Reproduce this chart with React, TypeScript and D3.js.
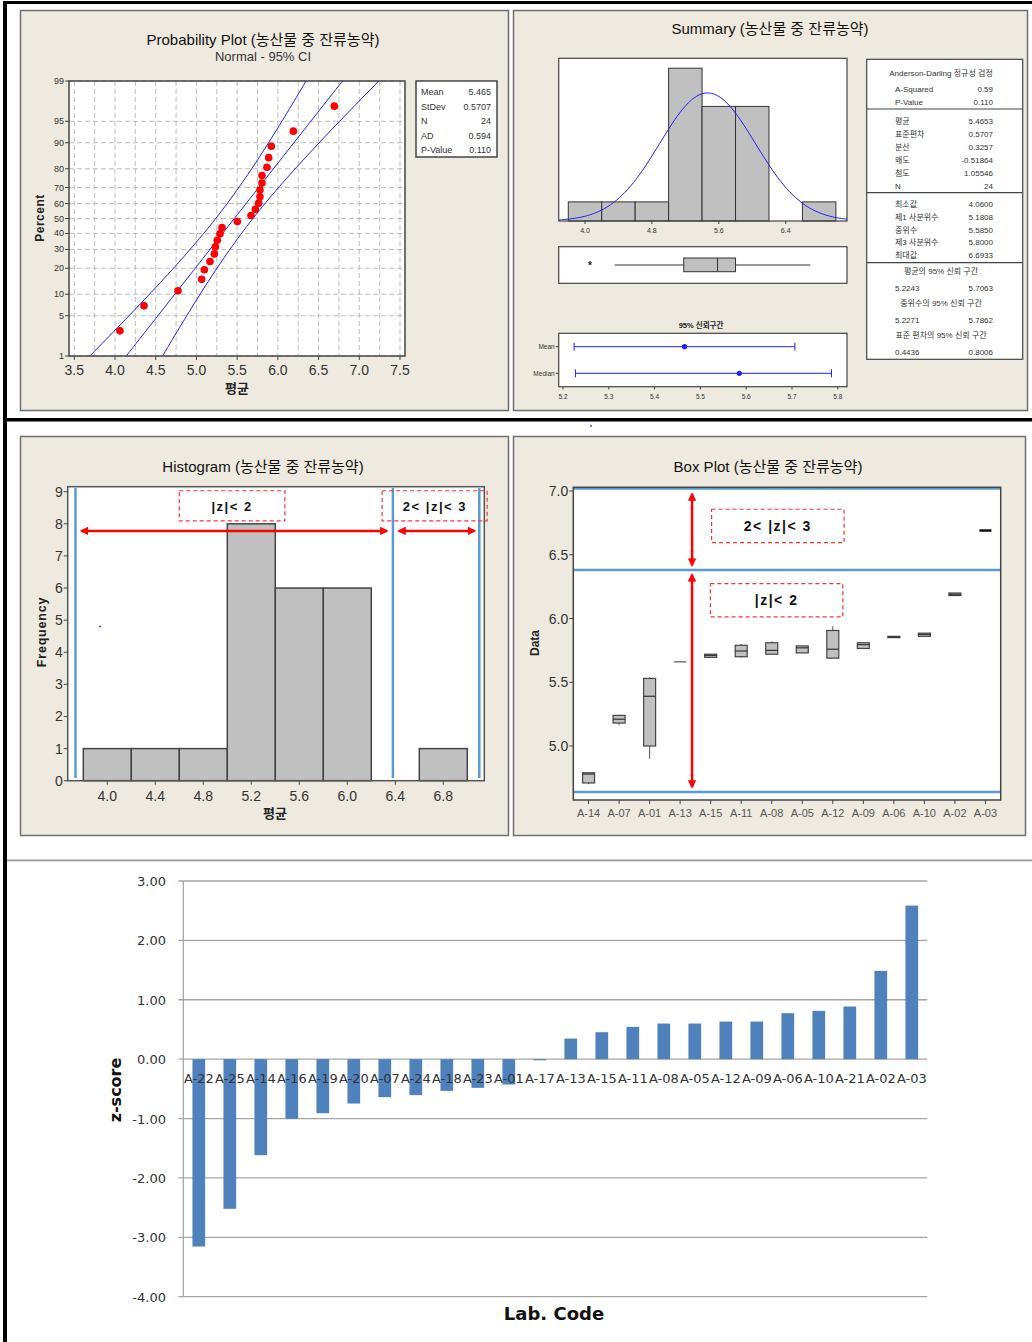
import React from 'react';
import * as d3 from 'd3';

// ---------------- DATA ----------------
// Lab means used for the probability plot (24 labs)
const labMeans = [4.06, 4.356, 4.773, 5.064, 5.097, 5.166, 5.22, 5.232, 5.256, 5.289, 5.314, 5.502,
  5.67, 5.723, 5.764, 5.78, 5.78, 5.805, 5.805, 5.866, 5.887, 5.92, 6.19, 6.6933];
const statMean = 5.4653;
const statSd = 0.5707;
const statN = 24;
const probPctTicks = [1, 5, 10, 20, 30, 40, 50, 60, 70, 80, 90, 95, 99];
const probXTicks = [3.5, 4.0, 4.5, 5.0, 5.5, 6.0, 6.5, 7.0, 7.5];
const probLegend = [['Mean', '5.465'], ['StDev', '0.5707'], ['N', '24'], ['AD', '0.594'], ['P-Value', '0.110']];

// Histogram (bin centres, width 0.4)
const binCenters = [4.0, 4.4, 4.8, 5.2, 5.6, 6.0, 6.4, 6.8];
const binCounts = [1, 1, 1, 8, 6, 6, 0, 1];
const histXTicks = [4.0, 4.4, 4.8, 5.2, 5.6, 6.0, 6.4, 6.8];
const histYTicks = [0, 1, 2, 3, 4, 5, 6, 7, 8, 9];
const histLimitLines = [3.735, 6.38, 7.1];
const histArrows = [[3.76, 6.355], [6.405, 7.085]];

// Summary panel
const sumXTicks = [4.0, 4.8, 5.6, 6.4];
const sumBox = { q1: 5.1808, med: 5.585, q3: 5.8, lo: 4.356, hi: 6.6933, outlier: 4.06 };
const ciRows = ['Mean', 'Median'];
const ciCentre = [5.4653, 5.585];
const ciLow = [5.2243, 5.2271];
const ciHigh = [5.7063, 5.7862];
const ciTicks = [5.2, 5.3, 5.4, 5.5, 5.6, 5.7, 5.8];
const adRows = [['A-Squared', '0.59'], ['P-Value', '0.110']];
const descRows = [['평균', '5.4653'], ['표준편차', '0.5707'], ['분산', '0.3257'], ['왜도', '-0.51864'], ['첨도', '1.05546'], ['N', '24']];
const quantRows = [['최소값', '4.0600'], ['제1 사분위수', '5.1808'], ['중위수', '5.5850'], ['제3 사분위수', '5.8000'], ['최대값', '6.6933']];
const ciTextRows = [['평균의 95% 신뢰 구간', '5.2243', '5.7063'], ['중위수의 95% 신뢰 구간', '5.2271', '5.7862'], ['표준 편차의 95% 신뢰 구간', '0.4436', '0.8006']];

// Box plot by lab
const boxLabs = ['A-14', 'A-07', 'A-01', 'A-13', 'A-15', 'A-11', 'A-08', 'A-05', 'A-12', 'A-09', 'A-06', 'A-10', 'A-02', 'A-03'];
const boxMin = [4.70, 5.165, 4.90, 5.66, 5.695, 5.695, 5.72, 5.73, 5.689, 5.765, 5.85, 5.86, 6.18, 6.69];
const boxQ1 = [4.71, 5.18, 5.00, 5.66, 5.695, 5.70, 5.72, 5.73, 5.689, 5.765, 5.85, 5.86, 6.18, 6.69];
const boxMed = [4.78, 5.21, 5.39, 5.66, 5.71, 5.745, 5.75, 5.77, 5.759, 5.795, 5.855, 5.875, 6.19, 6.69];
const boxQ3 = [4.79, 5.24, 5.53, 5.66, 5.72, 5.79, 5.81, 5.785, 5.906, 5.81, 5.86, 5.885, 6.20, 6.69];
const boxMax = [4.79, 5.245, 5.54, 5.66, 5.72, 5.80, 5.82, 5.785, 5.94, 5.81, 5.86, 5.885, 6.20, 6.69];
const boxYTicks = [5.0, 5.5, 6.0, 6.5, 7.0];
const boxLimitLines = [7.02, 6.38, 4.64];

// z-score bar chart
const zLabs = ['A-22', 'A-25', 'A-14', 'A-16', 'A-19', 'A-20', 'A-07', 'A-24', 'A-18', 'A-23', 'A-01', 'A-17',
  'A-13', 'A-15', 'A-11', 'A-08', 'A-05', 'A-12', 'A-09', 'A-06', 'A-10', 'A-21', 'A-02', 'A-03'];
const zScores = [-3.155, -2.52, -1.617, -1.005, -0.91, -0.747, -0.64, -0.606, -0.534, -0.483, -0.427, -0.02,
  0.347, 0.454, 0.544, 0.6, 0.6, 0.633, 0.633, 0.774, 0.813, 0.886, 1.487, 2.586];
const zTicks = [3, 2, 1, 0, -1, -2, -3, -4];

// ---------------- HELPERS ----------------
function qnorm(p: number): number {
  const a = [-3.969683028665376e+01, 2.209460984245205e+02, -2.759285104469687e+02, 1.383577518672690e+02, -3.066479806614716e+01, 2.506628277459239e+00];
  const b = [-5.447609879822406e+01, 1.615858368580409e+02, -1.556989798598866e+02, 6.680131188771972e+01, -1.328068155288572e+01];
  const c = [-7.784894002430293e-03, -3.223964580411365e-01, -2.400758277161838e+00, -2.549732539343734e+00, 4.374664141464968e+00, 2.938163982698783e+00];
  const d = [7.784695709041462e-03, 3.224671290700398e-01, 2.445134137142996e+00, 3.754408661907416e+00];
  const pl = 0.02425;
  if (p < pl) {
    const q = Math.sqrt(-2 * Math.log(p));
    return (((((c[0] * q + c[1]) * q + c[2]) * q + c[3]) * q + c[4]) * q + c[5]) / ((((d[0] * q + d[1]) * q + d[2]) * q + d[3]) * q + 1);
  }
  if (p <= 1 - pl) {
    const q = p - 0.5, r = q * q;
    return (((((a[0] * r + a[1]) * r + a[2]) * r + a[3]) * r + a[4]) * r + a[5]) * q / (((((b[0] * r + b[1]) * r + b[2]) * r + b[3]) * r + b[4]) * r + 1);
  }
  const q = Math.sqrt(-2 * Math.log(1 - p));
  return -(((((c[0] * q + c[1]) * q + c[2]) * q + c[3]) * q + c[4]) * q + c[5]) / ((((d[0] * q + d[1]) * q + d[2]) * q + d[3]) * q + 1);
}

const MF = "'Liberation Sans Narrow','Liberation Sans','Noto Sans CJK KR',sans-serif";
const SF = "'Liberation Sans','Noto Sans CJK KR',sans-serif";
const VF = "'DejaVu Sans','Noto Sans CJK KR',sans-serif";
const BEIGE = '#EEEAE0';
const TITLE = '농산물 중 잔류농약';

function Panel({ x, y, w, h }: { x: number; y: number; w: number; h: number }) {
  return <rect x={x} y={y} width={w} height={h} fill={BEIGE} stroke="#6f6f6f" strokeWidth={1.5} />;
}

// ---------------- PANELS ----------------
function ProbPlot() {
  const L = 69, R = 405, T = 81, B = 356;
  const x = d3.scaleLinear().domain([3.5, 7.5]).range([74.3, 400]);
  const zLo = qnorm(0.01), zHi = qnorm(0.99);
  const y = d3.scaleLinear().domain([zLo, zHi]).range([B, T]);
  const grid = d3.range(3.5, 7.51, 0.25);
  const sorted = [...labMeans].sort((a, b) => a - b);
  const n = sorted.length;
  const zs = d3.range(0, 81).map(i => zLo - 0.4 + (i * (zHi - zLo + 0.8)) / 80);
  const half = (z: number) => 1.96 * statSd * Math.sqrt(1 / statN + (z * z) / (2 * (statN - 1)));
  const line = d3.line<number>().x(z => x(statMean + z * statSd)).y(z => y(z));
  const lo = d3.line<number>().x(z => x(statMean + z * statSd - half(z))).y(z => y(z));
  const hi = d3.line<number>().x(z => x(statMean + z * statSd + half(z))).y(z => y(z));
  return (
    <g>
      <Panel x={20.5} y={10.5} w={488} h={400} />
      <text x={263} y={45} textAnchor="middle" fontFamily={SF} fontSize={15} fill="#111">Probability Plot ({TITLE})</text>
      <text x={263} y={61} textAnchor="middle" fontFamily={MF} fontSize={13} fill="#333">Normal - 95% CI</text>
      <rect x={L} y={T} width={R - L} height={B - T} fill="#fff" />
      {grid.map(v => <line key={'gx' + v} x1={x(v)} x2={x(v)} y1={T} y2={B} stroke="#bdbdbd" strokeDasharray="5,3" />)}
      {probPctTicks.map(p => <line key={'gy' + p} x1={L} x2={R} y1={y(qnorm(p / 100))} y2={y(qnorm(p / 100))} stroke="#bdbdbd" strokeDasharray="5,3" />)}
      <g clipPath="url(#clipProb)" fill="none" stroke="#2020ff" strokeWidth={1}>
        <path d={line(zs) || ''} />
        <path d={lo(zs) || ''} />
        <path d={hi(zs) || ''} />
      </g>
      {sorted.map((v, i) => (
        <circle key={'pt' + i} cx={x(v)} cy={y(qnorm((i + 1 - 0.3) / (n + 0.4)))} r={3.8} fill="#f00" />
      ))}
      <rect x={L} y={T} width={R - L} height={B - T} fill="none" stroke="#444" strokeWidth={1.5} />
      {probPctTicks.map(p => (
        <g key={'yt' + p}>
          <line x1={L - 4} x2={L} y1={y(qnorm(p / 100))} y2={y(qnorm(p / 100))} stroke="#444" />
          <text x={L - 5} y={y(qnorm(p / 100)) + 3} textAnchor="end" fontFamily={MF} fontSize={9} fill="#333">{p}</text>
        </g>
      ))}
      {probXTicks.map(v => (
        <g key={'xt' + v}>
          <line x1={x(v)} x2={x(v)} y1={B} y2={B + 4} stroke="#444" />
          <text x={x(v)} y={B + 19} textAnchor="middle" fontFamily={MF} fontSize={14} fill="#333">{v.toFixed(1)}</text>
        </g>
      ))}
      <text x={237} y={393} textAnchor="middle" fontFamily={SF} fontWeight="bold" fontSize={13} fill="#222">평균</text>
      <text transform="translate(44,218) rotate(-90)" textAnchor="middle" fontFamily={SF} fontWeight="bold" fontSize={12} fill="#222" letterSpacing={0.5}>Percent</text>
      <rect x={416} y={81} width={81} height={76} fill="#fff" stroke="#444" strokeWidth={1.5} />
      {probLegend.map((r, i) => (
        <g key={'lg' + i} fontFamily={MF} fontSize={9} fill="#333">
          <text x={421} y={95 + i * 14.6}>{r[0]}</text>
          <text x={491} y={95 + i * 14.6} textAnchor="end">{r[1]}</text>
        </g>
      ))}
    </g>
  );
}

function Summary() {
  const x = d3.scaleLinear().domain([4.0, 6.4]).range([585, 785.7]);
  const yc = d3.scaleLinear().domain([0, 8]).range([221, 68.2]);
  const HL = 558.7, HR = 847, HT = 58.3, HB = 221;
  const xs = d3.range(0, 101).map(i => 3.685 + (i * (7.134 - 3.685)) / 100);
  const dens = (v: number) => (statN * 0.4) / (statSd * Math.sqrt(2 * Math.PI)) * Math.exp(-0.5 * ((v - statMean) / statSd) ** 2);
  const curve = d3.line<number>().x(v => x(v)).y(v => yc(dens(v))).curve(d3.curveBasis);
  const xc = d3.scaleLinear().domain([5.2, 5.8]).range([563, 837.8]);
  const ciY = [346.7, 373.3];
  const bY = 265;
  const SX = 866.7, SW = 156;
  const lx = 895, vx = 993;
  return (
    <g>
      <Panel x={513.5} y={10.5} w={514} h={400} />
      <text x={770} y={34} textAnchor="middle" fontFamily={SF} fontSize={15} fill="#111">Summary ({TITLE})</text>
      <rect x={HL} y={HT} width={HR - HL} height={HB - HT} fill="#fff" />
      {binCenters.map((c, i) => binCounts[i] > 0 && (
        <rect key={'sb' + i} x={x(c - 0.2)} y={yc(binCounts[i])} width={x(c + 0.2) - x(c - 0.2)} height={HB - yc(binCounts[i])} fill="#c0c0c0" stroke="#333" strokeWidth={1} />
      ))}
      <path d={curve(xs) || ''} fill="none" stroke="#2020ff" strokeWidth={1} />
      <rect x={HL} y={HT} width={HR - HL} height={HB - HT} fill="none" stroke="#444" strokeWidth={1.2} />
      {sumXTicks.map(v => (
        <g key={'st' + v}>
          <line x1={x(v)} x2={x(v)} y1={HB} y2={HB + 3} stroke="#444" />
          <text x={x(v)} y={HB + 12} textAnchor="middle" fontFamily={SF} fontSize={7} fill="#333">{v.toFixed(1)}</text>
        </g>
      ))}
      <rect x={HL} y={246.7} width={HR - HL} height={36.6} fill="#fff" stroke="#444" strokeWidth={1.2} />
      <line x1={x(sumBox.lo)} x2={x(sumBox.q1)} y1={bY} y2={bY} stroke="#333" />
      <line x1={x(sumBox.q3)} x2={x(sumBox.hi)} y1={bY} y2={bY} stroke="#333" />
      <rect x={x(sumBox.q1)} y={258} width={x(sumBox.q3) - x(sumBox.q1)} height={13.7} fill="#c0c0c0" stroke="#333" />
      <line x1={x(sumBox.med)} x2={x(sumBox.med)} y1={258} y2={271.7} stroke="#333" />
      <text x={x(sumBox.outlier)} y={bY + 4} textAnchor="middle" fontFamily={SF} fontWeight="bold" fontSize={10} fill="#222">*</text>
      <text x={701} y={328} textAnchor="middle" fontFamily={SF} fontWeight="bold" fontSize={7.5} fill="#222">95% 신뢰구간</text>
      <rect x={HL} y={333.3} width={HR - HL} height={53.4} fill="#fff" stroke="#444" strokeWidth={1.2} />
      {ciRows.map((r, i) => (
        <g key={'ci' + i}>
          <line x1={xc(ciLow[i])} x2={xc(ciHigh[i])} y1={ciY[i]} y2={ciY[i]} stroke="#2020ff" />
          <line x1={xc(ciLow[i])} x2={xc(ciLow[i])} y1={ciY[i] - 4} y2={ciY[i] + 4} stroke="#2020ff" />
          <line x1={xc(ciHigh[i])} x2={xc(ciHigh[i])} y1={ciY[i] - 4} y2={ciY[i] + 4} stroke="#2020ff" />
          <circle cx={xc(ciCentre[i])} cy={ciY[i]} r={2.6} fill="#2020ff" />
          <line x1={HL - 3} x2={HL} y1={ciY[i]} y2={ciY[i]} stroke="#444" />
          <text x={HL - 4} y={ciY[i] + 2.5} textAnchor="end" fontFamily={SF} fontSize={6.5} fill="#333">{r}</text>
        </g>
      ))}
      {ciTicks.map(v => (
        <g key={'ct' + v}>
          <line x1={xc(v)} x2={xc(v)} y1={386.7} y2={389.5} stroke="#444" />
          <text x={xc(v)} y={399} textAnchor="middle" fontFamily={SF} fontSize={6.5} fill="#333">{v.toFixed(1)}</text>
        </g>
      ))}
      <rect x={SX} y={59.3} width={SW} height={300} fill="#fff" stroke="#444" strokeWidth={1.2} />
      <line x1={SX} x2={SX + SW} y1={109} y2={109} stroke="#444" strokeWidth={1.2} />
      <line x1={SX} x2={SX + SW} y1={192.7} y2={192.7} stroke="#444" strokeWidth={1.2} />
      <line x1={SX} x2={SX + SW} y1={262.7} y2={262.7} stroke="#444" strokeWidth={1.2} />
      <g fontFamily={SF} fontSize={8} fill="#333">
        <text x={941} y={76} textAnchor="middle">Anderson-Darling 정규성 검정</text>
        {adRows.map((r, i) => (
          <g key={'ad' + i}><text x={lx} y={92 + i * 13}>{r[0]}</text><text x={vx} y={92 + i * 13} textAnchor="end">{r[1]}</text></g>
        ))}
        {descRows.map((r, i) => (
          <g key={'ds' + i}><text x={lx} y={124 + i * 12.9}>{r[0]}</text><text x={vx} y={124 + i * 12.9} textAnchor="end">{r[1]}</text></g>
        ))}
        {quantRows.map((r, i) => (
          <g key={'qr' + i}><text x={lx} y={207 + i * 12.8}>{r[0]}</text><text x={vx} y={207 + i * 12.8} textAnchor="end">{r[1]}</text></g>
        ))}
        {ciTextRows.map((r, i) => (
          <g key={'ctr' + i}>
            <text x={941} y={274 + i * 32} textAnchor="middle">{r[0]}</text>
            <text x={lx} y={291 + i * 32}>{r[1]}</text>
            <text x={vx} y={291 + i * 32} textAnchor="end">{r[2]}</text>
          </g>
        ))}
      </g>
    </g>
  );
}

function Histogram() {
  const L = 67.7, R = 484.3, T = 486.7, B = 780.7;
  const x = d3.scaleLinear().domain([4.0, 6.8]).range([107.3, 443.3]);
  const y = d3.scaleLinear().domain([0, 9]).range([B, 491.7]);
  const arrowY = y(7.78);
  return (
    <g>
      <Panel x={20.5} y={436.5} w={488} h={399} />
      <text x={263} y={472} textAnchor="middle" fontFamily={SF} fontSize={15} fill="#111">Histogram ({TITLE})</text>
      <rect x={L} y={T} width={R - L} height={B - T} fill="#fff" />
      {binCenters.map((c, i) => binCounts[i] > 0 && (
        <rect key={'hb' + i} x={x(c - 0.2)} y={y(binCounts[i])} width={x(c + 0.2) - x(c - 0.2)} height={B - y(binCounts[i])} fill="#c0c0c0" stroke="#444" strokeWidth={1.5} />
      ))}
      {histLimitLines.map((v, i) => (
        <line key={'hl' + i} x1={x(v)} x2={x(v)} y1={488} y2={778} stroke="#5B9BD5" strokeWidth={2.5} />
      ))}
      {histArrows.map((a, i) => (
        <line key={'ha' + i} x1={x(a[0]) + 3} x2={x(a[1]) - 3} y1={arrowY} y2={arrowY} stroke="#f00" strokeWidth={2.5} markerStart="url(#arr)" markerEnd="url(#arr)" />
      ))}
      <rect x={x(4.6)} y={y(9.03)} width={x(5.48) - x(4.6)} height={y(8.09) - y(9.03)} fill="none" stroke="#f33" strokeDasharray="4,3" strokeWidth={1.2} />
      <text x={x(5.04)} y={y(8.56) + 5} textAnchor="middle" fontFamily={SF} fontWeight="bold" fontSize={13} fill="#111" letterSpacing={1.5}>|z|&lt; 2</text>
      <rect x={x(6.29)} y={y(9.03)} width={x(7.165) - x(6.29)} height={y(8.09) - y(9.03)} fill="none" stroke="#f33" strokeDasharray="4,3" strokeWidth={1.2} />
      <text x={x(6.73)} y={y(8.56) + 5} textAnchor="middle" fontFamily={SF} fontWeight="bold" fontSize={13} fill="#111" letterSpacing={1.5}>2&lt; |z|&lt; 3</text>
      <circle cx={x(3.94)} cy={y(4.8)} r={1} fill="#44f" />
      <rect x={L} y={T} width={R - L} height={B - T} fill="none" stroke="#555" strokeWidth={1.5} />
      {histYTicks.map(v => (
        <g key={'hy' + v}>
          <line x1={L - 4} x2={L} y1={y(v)} y2={y(v)} stroke="#444" />
          <text x={L - 5} y={y(v) + 5} textAnchor="end" fontFamily={MF} fontSize={14} fill="#333">{v}</text>
        </g>
      ))}
      {histXTicks.map(v => (
        <g key={'hx' + v}>
          <line x1={x(v)} x2={x(v)} y1={B} y2={B + 4} stroke="#444" />
          <text x={x(v)} y={B + 20} textAnchor="middle" fontFamily={MF} fontSize={14} fill="#333">{v.toFixed(1)}</text>
        </g>
      ))}
      <text x={275} y={818} textAnchor="middle" fontFamily={SF} fontWeight="bold" fontSize={13} fill="#222">평균</text>
      <text transform="translate(46,632) rotate(-90)" textAnchor="middle" fontFamily={SF} fontWeight="bold" fontSize={12.5} fill="#222" letterSpacing={0.8}>Frequency</text>
    </g>
  );
}

function BoxPlot() {
  const L = 573.3, R = 1000.7, T = 487.3, B = 800;
  const y = d3.scaleLinear().domain([5.0, 7.0]).range([746, 491]);
  const xb = d3.scaleBand<string>().domain(boxLabs).range([L, R]);
  const xi = d3.scaleLinear().domain([0, boxLabs.length]).range([L, R]);
  const cx = (s: string) => (xb(s) || 0) + xb.bandwidth() / 2;
  const bw = 12;
  return (
    <g>
      <Panel x={513.5} y={436.5} w={512} h={399} />
      <text x={768} y={472} textAnchor="middle" fontFamily={SF} fontSize={15} fill="#111">Box Plot ({TITLE})</text>
      <rect x={L} y={T} width={R - L} height={B - T} fill="#fff" />
      {boxLimitLines.map((v, i) => (
        <line key={'bl' + i} x1={L} x2={R} y1={y(v)} y2={y(v)} stroke="#5B9BD5" strokeWidth={2.5} />
      ))}
      <line x1={xi(3.89)} x2={xi(3.89)} y1={y(7.0) + 3} y2={y(6.394) - 3} stroke="#f00" strokeWidth={2.5} markerStart="url(#arr)" markerEnd="url(#arr)" />
      <line x1={xi(3.89)} x2={xi(3.89)} y1={y(6.367) + 3} y2={y(4.655) - 3} stroke="#f00" strokeWidth={2.5} markerStart="url(#arr)" markerEnd="url(#arr)" />
      <rect x={xi(4.53)} y={y(6.857)} width={xi(8.87) - xi(4.53)} height={y(6.595) - y(6.857)} fill="none" stroke="#f33" strokeDasharray="4,3" strokeWidth={1.2} />
      <text x={xi(6.7)} y={y(6.726) + 5} textAnchor="middle" fontFamily={SF} fontWeight="bold" fontSize={14} fill="#111" letterSpacing={1.5}>2&lt; |z|&lt; 3</text>
      <rect x={xi(4.49)} y={y(6.273)} width={xi(8.83) - xi(4.49)} height={y(6.012) - y(6.273)} fill="none" stroke="#f33" strokeDasharray="4,3" strokeWidth={1.2} />
      <text x={xi(6.66)} y={y(6.142) + 5} textAnchor="middle" fontFamily={SF} fontWeight="bold" fontSize={14} fill="#111" letterSpacing={1.5}>|z|&lt; 2</text>
      {boxLabs.map((s, i) => {
        const c = cx(s);
        const flat = boxQ3[i] - boxQ1[i] < 0.001;
        return (
          <g key={'bx' + s}>
            {boxMax[i] > boxQ3[i] && <line x1={c} x2={c} y1={y(boxMax[i])} y2={y(boxQ3[i])} stroke="#555" />}
            {boxMin[i] < boxQ1[i] && <line x1={c} x2={c} y1={y(boxQ1[i])} y2={y(boxMin[i])} stroke="#555" />}
            {flat ? (
              <line x1={c - bw / 2} x2={c + bw / 2} y1={y(boxMed[i])} y2={y(boxMed[i])} stroke={i === boxLabs.length - 1 ? '#111' : '#555'} strokeWidth={i === boxLabs.length - 1 ? 2.5 : 1.2} />
            ) : (
              <g>
                <rect x={c - bw / 2} y={y(boxQ3[i])} width={bw} height={y(boxQ1[i]) - y(boxQ3[i])} fill="#c0c0c0" stroke="#444" strokeWidth={1.2} />
                <line x1={c - bw / 2} x2={c + bw / 2} y1={y(boxMed[i])} y2={y(boxMed[i])} stroke="#333" strokeWidth={1.2} />
              </g>
            )}
          </g>
        );
      })}
      <rect x={L} y={T} width={R - L} height={B - T} fill="none" stroke="#444" strokeWidth={1.5} />
      {boxYTicks.map(v => (
        <g key={'by' + v}>
          <line x1={L - 4} x2={L} y1={y(v)} y2={y(v)} stroke="#444" />
          <text x={L - 5} y={y(v) + 5} textAnchor="end" fontFamily={MF} fontSize={14} fill="#333">{v.toFixed(1)}</text>
        </g>
      ))}
      {boxLabs.map(s => (
        <g key={'bxl' + s}>
          <line x1={cx(s)} x2={cx(s)} y1={B} y2={B + 4} stroke="#444" />
          <text x={cx(s)} y={B + 17} textAnchor="middle" fontFamily={MF} fontSize={11} fill="#555">{s}</text>
        </g>
      ))}
      <text transform="translate(539,643) rotate(-90)" textAnchor="middle" fontFamily={SF} fontWeight="bold" fontSize={12} fill="#222">Data</text>
    </g>
  );
}

function ZChart() {
  const L = 183.3, R = 927.3;
  const x = d3.scaleBand<string>().domain(zLabs).range([L, R]).paddingInner(0.59).paddingOuter(0.295);
  const y = d3.scaleLinear().domain([-4, 3]).range([1296.7, 881]);
  const step = x.step();
  return (
    <g>
      {zTicks.map(v => (
        <g key={'zt' + v}>
          <line x1={L - 5} x2={R} y1={y(v)} y2={y(v)} stroke="#a6a6a6" strokeWidth={1.3} />
          <text x={166} y={y(v) + 5} textAnchor="end" fontFamily={VF} fontSize={13} fill="#333">{v.toFixed(2)}</text>
        </g>
      ))}
      <line x1={L} x2={L} y1={y(3)} y2={y(-4)} stroke="#a6a6a6" strokeWidth={1.3} />
      {zLabs.map((s, i) => (
        <rect key={'zb' + s} x={x(s)} y={y(Math.max(0, zScores[i]))} width={x.bandwidth()} height={Math.abs(y(zScores[i]) - y(0))} fill="#4F81BD" />
      ))}
      {zLabs.map((s, i) => (
        <text key={'zl' + s} x={L + step * (i + 0.5)} y={1083} textAnchor="middle" fontFamily={VF} fontSize={13} fill="#333">{s}</text>
      ))}
      <text transform="translate(121,1090) rotate(-90)" textAnchor="middle" fontFamily={VF} fontWeight="bold" fontSize={16} fill="#111">z-score</text>
      <text x={554} y={1320} textAnchor="middle" fontFamily={VF} fontWeight="bold" fontSize={18} fill="#111">Lab. Code</text>
    </g>
  );
}

export default function App() {
  return (
    <svg width={1032} height={1342} style={{ position: 'absolute', left: 0, top: 0, background: '#fff' }}>
      <defs>
        <marker id="arr" viewBox="0 0 10 10" refX="8" refY="5" markerWidth="3.4" markerHeight="3.4" orient="auto-start-reverse">
          <path d="M0,0 L10,5 L0,10 z" fill="#f00" />
        </marker>
        <clipPath id="clipProb"><rect x={69} y={81} width={336} height={275} /></clipPath>
      </defs>
      <rect x={0} y={0} width={1032} height={1342} fill="#fff" />
      <ProbPlot />
      <Summary />
      <Histogram />
      <BoxPlot />
      <ZChart />
      <rect x={3} y={1} width={1029} height={3} fill="#000" />
      <rect x={3} y={1} width={4} height={1341} fill="#000" />
      <rect x={3} y={418} width={1029} height={3.5} fill="#000" />
      <rect x={7} y={859.5} width={1025} height={1.8} fill="#9a9a9a" />
      <circle cx={591} cy={426} r={1} fill="#44f" />
    </svg>
  );
}
